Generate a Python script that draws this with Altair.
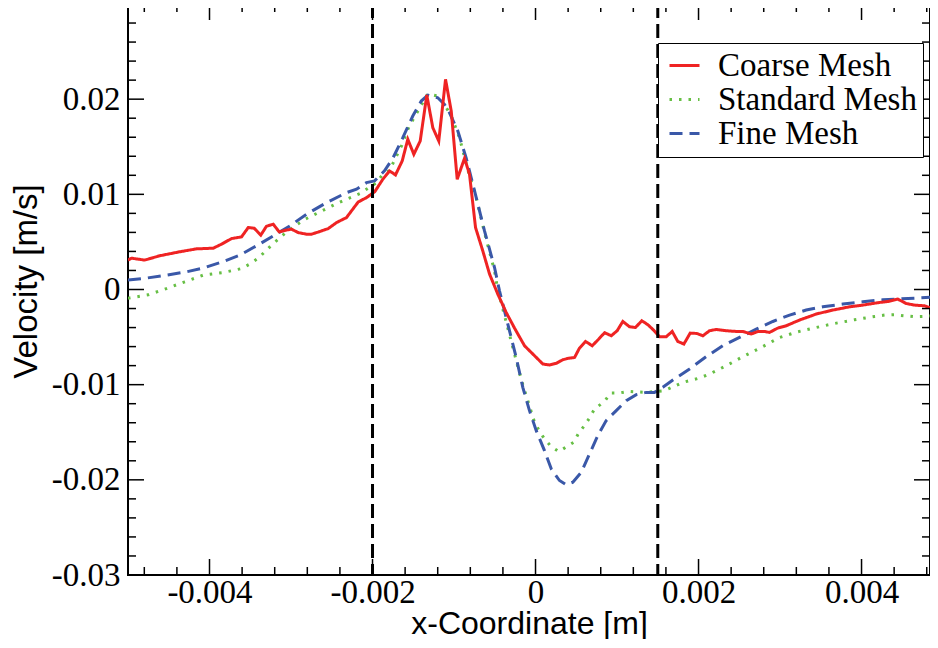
import altair as alt
import pandas as pd

# ---------------- data ----------------
coarse_x = [-0.00500, -0.004957, -0.004794, -0.004613, -0.004368, -0.004160, -0.003955, -0.003853, -0.003730, -0.003607,
            -0.003525, -0.003452, -0.003371, -0.003301, -0.003218, -0.003145, -0.003064, -0.002994, -0.002912, -0.002810,
            -0.002748, -0.002647, -0.002544, -0.002442, -0.002319, -0.002258, -0.002175, -0.002074, -0.001972, -0.001874,
            -0.001791, -0.001718, -0.001636, -0.001567, -0.001493, -0.001415, -0.001334, -0.001260, -0.001187, -0.001104,
            -0.001034, -0.000961, -0.000871, -0.000810, -0.000736, -0.000647, -0.000564, -0.000463, -0.000360, -0.000258,
            -0.000135, -0.000012, 0.000090, 0.000172, 0.000254, 0.000335, 0.000396, 0.000479, 0.000540, 0.000613,
            0.000696, 0.000777, 0.000847, 0.000929, 0.001002, 0.001071, 0.001153, 0.001227, 0.001304, 0.001378,
            0.001448, 0.001521, 0.001604, 0.001677, 0.001746, 0.001820, 0.001898, 0.001979, 0.002053, 0.002135,
            0.002217, 0.002340, 0.002463, 0.002544, 0.002647, 0.002728, 0.002810, 0.002871, 0.002973, 0.003076,
            0.003239, 0.003444, 0.003648, 0.003853, 0.004016, 0.004221, 0.004323, 0.004445, 0.004548, 0.004650,
            0.004773, 0.004917]
coarse_y = [0.00309, 0.00329, 0.00309, 0.00354, 0.00396, 0.00427, 0.00434, 0.00476, 0.00535, 0.00553,
            0.00651, 0.00644, 0.00571, 0.00665, 0.00686, 0.00605, 0.00623, 0.00634, 0.00598, 0.00581,
            0.00581, 0.00609, 0.00640, 0.00703, 0.00756, 0.00826, 0.00920, 0.00965, 0.01028, 0.01158,
            0.01246, 0.01204, 0.01350, 0.01578, 0.01421, 0.01560, 0.02043, 0.01700, 0.01560, 0.02208,
            0.01875, 0.01158, 0.01379, 0.01211, 0.00651, 0.00406, 0.00162, -0.00048, -0.00241, -0.00405,
            -0.00591, -0.00696, -0.00783, -0.00793, -0.00776, -0.00738, -0.00724, -0.00714, -0.00615, -0.00546,
            -0.00591, -0.00520, -0.00454, -0.00486, -0.00433, -0.00336, -0.00391, -0.00399, -0.00328, -0.00370,
            -0.00426, -0.00496, -0.00496, -0.00441, -0.00546, -0.00573, -0.00458, -0.00462, -0.00486, -0.00433,
            -0.00420, -0.00433, -0.00441, -0.00441, -0.00468, -0.00441, -0.00441, -0.00451, -0.00405, -0.00381,
            -0.00321, -0.00258, -0.00216, -0.00182, -0.00164, -0.00136, -0.00126, -0.00101, -0.00147, -0.00164,
            -0.00171, -0.00216]

standard_x = [-0.00500, -0.004752, -0.004528, -0.004303, -0.004077, -0.003832, -0.003607, -0.003506, -0.003402, -0.003239,
              -0.003055, -0.002850, -0.002647, -0.002442, -0.002319, -0.002156, -0.001955, -0.001874, -0.001791, -0.001640,
              -0.001555, -0.001432, -0.001321, -0.001199, -0.001129, -0.001034, -0.000933, -0.000871, -0.000810, -0.000736,
              -0.000626, -0.000503, -0.000463, -0.000401, -0.000340, -0.000279, -0.000217, -0.000156, -0.000082, -0.000012,
              0.000049, 0.000110, 0.000193, 0.000286, 0.000384, 0.000470, 0.000528, 0.000601, 0.000663, 0.000724,
              0.000794, 0.000859, 0.000920, 0.001031, 0.001141, 0.001337, 0.001460, 0.001583, 0.001807, 0.002012,
              0.002135, 0.002340, 0.002544, 0.002769, 0.002994, 0.003218, 0.003444, 0.003669, 0.003914, 0.004160,
              0.004282, 0.004405, 0.004528, 0.004650, 0.004773, 0.004896]
standard_y = [-0.00092, -0.00056, 0.00010, 0.00081, 0.00151, 0.00178, 0.00220, 0.00267, 0.00329, 0.00466,
              0.00605, 0.00728, 0.00815, 0.00902, 0.00949, 0.01007, 0.01120, 0.01211, 0.01253, 0.01518,
              0.01707, 0.01893, 0.02057, 0.02033, 0.01962, 0.01823, 0.01595, 0.01392, 0.01193, 0.00994,
              0.00598, 0.00196, -0.00006, -0.00206, -0.00405, -0.00609, -0.00811, -0.01000, -0.01203, -0.01396,
              -0.01490, -0.01570, -0.01651, -0.01703, -0.01651, -0.01605, -0.01511, -0.01430, -0.01349, -0.01255,
              -0.01210, -0.01161, -0.01087, -0.01087, -0.01070, -0.01081, -0.01073, -0.01063, -0.00976, -0.00930,
              -0.00888, -0.00801, -0.00706, -0.00609, -0.00504, -0.00444, -0.00399, -0.00357, -0.00318, -0.00283,
              -0.00269, -0.00265, -0.00276, -0.00286, -0.00283, -0.00276]

fine_x = [-0.00500, -0.004773, -0.004528, -0.004282, -0.004077, -0.003832, -0.003628, -0.003423, -0.003218, -0.003015,
          -0.002810, -0.002564, -0.002319, -0.002196, -0.002074, -0.001975, -0.001853, -0.001751, -0.001628, -0.001506,
          -0.001402, -0.001321, -0.001199, -0.001117, -0.001055, -0.000953, -0.000850, -0.000748, -0.000626, -0.000503,
          -0.000442, -0.000340, -0.000237, -0.000156, -0.000074, 0.000009, 0.000110, 0.000193, 0.000294, 0.000377,
          0.000458, 0.000561, 0.000663, 0.000764, 0.000867, 0.000990, 0.001113, 0.001236, 0.001358, 0.001460,
          0.001562, 0.001685, 0.001890, 0.002094, 0.002298, 0.002503, 0.002708, 0.002912, 0.003117, 0.003321,
          0.003525, 0.003771, 0.004016, 0.004261, 0.004426, 0.004671, 0.004917]
fine_y = [0.00099, 0.00120, 0.00151, 0.00186, 0.00225, 0.00294, 0.00361, 0.00459, 0.00563, 0.00668,
          0.00791, 0.00913, 0.01018, 0.01054, 0.01123, 0.01141, 0.01246, 0.01379, 0.01595, 0.01823,
          0.01980, 0.02043, 0.02015, 0.01945, 0.01857, 0.01665, 0.01379, 0.01036, 0.00616, 0.00231,
          -0.00014, -0.00363, -0.00714, -0.01028, -0.01273, -0.01483, -0.01693, -0.01885, -0.02007, -0.02052,
          -0.02025, -0.01920, -0.01727, -0.01535, -0.01378, -0.01273, -0.01168, -0.01105, -0.01081, -0.01081,
          -0.01028, -0.00951, -0.00835, -0.00706, -0.00591, -0.00504, -0.00416, -0.00336, -0.00269, -0.00216,
          -0.00182, -0.00153, -0.00129, -0.00108, -0.00101, -0.00090, -0.00077]

series_names = ["Coarse Mesh", "Standard Mesh", "Fine Mesh"]
series_colors = ["#ef2323", "#67bf45", "#3a58a8"]
series_dash = [[1, 0], [2.5, 7], [13, 7]]

ref_lines = [-0.002, 0.0015]

x_major = [-0.004, -0.002, 0.0, 0.002, 0.004]
x_minor = [-0.0048, -0.0044, -0.0036, -0.0032, -0.0028, -0.0024, -0.0016, -0.0012, -0.0008, -0.0004,
           0.0004, 0.0008, 0.0012, 0.0016, 0.0024, 0.0028, 0.0032, 0.0036, 0.0044, 0.0048]
y_major = [-0.03, -0.02, -0.01, 0.0, 0.01, 0.02]
y_minor = [-0.028, -0.026, -0.024, -0.022, -0.018, -0.016, -0.014, -0.012, -0.008, -0.006, -0.004, -0.002,
           0.002, 0.004, 0.006, 0.008, 0.012, 0.014, 0.016, 0.018, 0.022, 0.024, 0.026, 0.028]

# ---------------- build ----------------
rows = []
for name, xs, ys in [("Coarse Mesh", coarse_x, coarse_y),
                     ("Standard Mesh", standard_x, standard_y),
                     ("Fine Mesh", fine_x, fine_y)]:
    for xv, yv in zip(xs, ys):
        rows.append({"series": name, "x": xv, "y": yv})
df = pd.DataFrame(rows)

W, H = 802, 571
MAJ, MIN = 16, 8
SERIF = "Liberation Serif"
SANS = "Liberation Sans"

xscale = alt.Scale(domain=[-0.005, 0.00484], nice=False, zero=False)
yscale = alt.Scale(domain=[-0.03, 0.03], nice=False, zero=False)

legend = alt.Legend(
    title=None, orient="none", legendX=530, legendY=39,
    strokeColor="black", fillColor="white", padding=6,
    labelFont=SERIF, labelFontSize=33, labelColor="black", labelLimit=400,
    symbolType="stroke", symbolSize=900, symbolStrokeWidth=3,
    symbolOffset=4, labelOffset=17, rowPadding=0,
)

x_axis = alt.Axis(
    values=x_major, ticks=False, tickSize=0, domain=False, grid=False,
    labelFont=SERIF, labelFontSize=33, labelColor="black", labelPadding=1,
    labelFlush=False, labelOverlap=False,
    labelExpr="datum.value == 0 ? '0' : replace(format(datum.value, '.3f'), '\u2212', '-')",
    title="x-Coordinate [m]", titleFont=SANS, titleFontSize=32, titleFontWeight="normal",
    titleColor="black", titleBaseline="alphabetic", titleY=58,
)
y_axis = alt.Axis(
    values=y_major, ticks=False, tickSize=0, domain=False, grid=False,
    labelFont=SERIF, labelFontSize=33, labelColor="black", labelPadding=8,
    labelFlush=False, labelOverlap=False,
    labelExpr="datum.value == 0 ? '0' : replace(format(datum.value, '.2f'), '\u2212', '-')",
    title="Velocity [m/s]", titleFont=SANS, titleFontSize=33, titleFontWeight="normal",
    titleColor="black", titlePadding=8, titleY=277,
)

color = alt.Color("series:N", scale=alt.Scale(domain=series_names, range=series_colors), legend=legend)
dash = alt.StrokeDash("series:N", scale=alt.Scale(domain=series_names, range=series_dash), legend=legend)

base = alt.Chart(df)


def series_layer(name):
    return base.transform_filter(alt.datum.series == name).mark_line(
        strokeWidth=3, clip=True, strokeCap="butt"
    ).encode(
        x=alt.X("x:Q", scale=xscale, axis=x_axis),
        y=alt.Y("y:Q", scale=yscale, axis=y_axis),
        color=color,
        strokeDash=dash,
    )


green = series_layer("Standard Mesh")
blue = series_layer("Fine Mesh")
red = series_layer("Coarse Mesh")

vlines = alt.Chart(pd.DataFrame({"v": ref_lines})).mark_rule(
    color="black", strokeWidth=3, strokeDash=[14, 6]
).encode(x=alt.X("v:Q", scale=xscale, axis=x_axis))


def xticks(vals, length):
    d = pd.DataFrame({"v": vals})
    bottom = alt.Chart(d).mark_rule(color="black", strokeWidth=1.5).encode(
        x=alt.X("v:Q", scale=xscale, axis=x_axis), y=alt.value(H), y2=alt.value(H - length))
    top = alt.Chart(d).mark_rule(color="black", strokeWidth=1.5).encode(
        x=alt.X("v:Q", scale=xscale, axis=x_axis), y=alt.value(0), y2=alt.value(length))
    return [bottom, top]


def yticks(vals, length):
    d = pd.DataFrame({"v": vals})
    left = alt.Chart(d).mark_rule(color="black", strokeWidth=1.5).encode(
        y=alt.Y("v:Q", scale=yscale, axis=y_axis), x=alt.value(0), x2=alt.value(length))
    right = alt.Chart(d).mark_rule(color="black", strokeWidth=1.5).encode(
        y=alt.Y("v:Q", scale=yscale, axis=y_axis), x=alt.value(W), x2=alt.value(W - length))
    return [left, right]


tick_layers = xticks(x_major, MAJ) + xticks(x_minor, MIN) + yticks(y_major, MAJ) + yticks(y_minor, MIN)

chart = alt.layer(green, blue, red, vlines, *tick_layers).properties(
    width=W, height=H,
    autosize=alt.AutoSizeParams(type="none"),
    padding={"left": 120, "top": -4, "right": 0, "bottom": 64},
    background="white",
).configure_view(stroke="black", strokeWidth=2)

chart.save("out.html", embed_options={"renderer": "svg", "actions": False})
